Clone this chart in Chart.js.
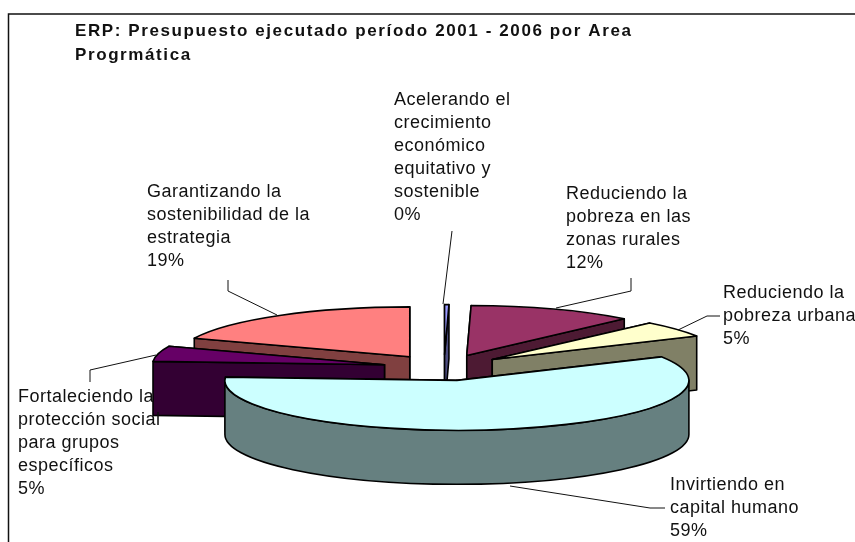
<!DOCTYPE html>
<html>
<head>
<meta charset="utf-8">
<style>
    body { margin: 0; background: #fff; }
    canvas { display: block; }
</style>
<script src="https://cdn.jsdelivr.net/npm/chart.js@4"></script>
</head>
<body>
<canvas id="pie" width="855" height="542"></canvas>
<script>
const titleLines = ['ERP: Presupuesto ejecutado período 2001 - 2006 por Area', 'Progrmática'];
const categories = [
    ['Acelerando el', 'crecimiento', 'económico', 'equitativo y', 'sostenible'],
    ['Reduciendo la', 'pobreza en las', 'zonas rurales'],
    ['Reduciendo la', 'pobreza urbana'],
    ['Invirtiendo en', 'capital humano'],
    ['Fortaleciendo la', 'protección social', 'para grupos', 'específicos'],
    ['Garantizando la', 'sostenibilidad de la', 'estrategia']
];
const values = [0.3, 11.6, 5.3, 59, 5, 19];
const topColors = ['#9999ff', '#993366', '#ffffcc', '#ccffff', '#660066', '#ff8080'];
const wallColors = ['#4d4d80', '#4d1a33', '#808066', '#668080', '#330033', '#804040'];

// back to front
const paintOrder = [0, 1, 5, 2, 4, 3];

// where the 3d pie sits on the page
const centerX = 444;
const centerY = 367.6;
const flatten = 0.215;
const depth = 54;
const explode = 61;

// label block: left edge, first line middle; then the leader line
const labelBoxes = [
    { x: 394, y: 100, lead: [[452, 231], [443, 304]] },
    { x: 566, y: 194, lead: [[631, 278], [631, 291], [556, 308]] },
    { x: 723, y: 293, lead: [[720, 316], [707, 316], [678, 330]] },
    { x: 670, y: 485, lead: [[665, 508], [650, 508], [510, 486]] },
    { x: 18, y: 397, lead: [[90, 382], [90, 370], [156, 355]] },
    { x: 147, y: 192, lead: [[228, 280], [228, 291], [277, 315]] }
];

function sliceGeometry(el) {
    const p = el.getProps(['startAngle', 'endAngle', 'outerRadius']);
    const mid = (p.startAngle + p.endAngle) / 2;
    return {
        a0: p.startAngle,
        a1: p.endAngle,
        r: p.outerRadius,
        dx: Math.cos(mid) * explode,
        dy: Math.sin(mid) * explode,
        x: centerX + Math.cos(mid) * explode,
        y: centerY + Math.sin(mid) * explode * flatten
    };
}

function tip(g, angle) {
    return [g.x + Math.cos(angle) * g.r, g.y + Math.sin(angle) * g.r * flatten];
}

function drawCutFace(ctx, g, angle) {
    const t = tip(g, angle);
    ctx.beginPath();
    ctx.moveTo(g.x, g.y);
    ctx.lineTo(t[0], t[1]);
    ctx.lineTo(t[0], t[1] + depth);
    ctx.lineTo(g.x, g.y + depth);
    ctx.closePath();
    ctx.fill();
    ctx.stroke();
}

function drawRim(ctx, g) {
    // only the part of the rim that faces the viewer
    const from = Math.max(g.a0, 0);
    const to = Math.min(g.a1, Math.PI);
    if (to <= from) return;
    ctx.beginPath();
    ctx.ellipse(g.x, g.y, g.r, g.r * flatten, 0, from, to);
    ctx.ellipse(g.x, g.y + depth, g.r, g.r * flatten, 0, to, from, true);
    ctx.closePath();
    ctx.fill();
    ctx.stroke();
}

const pie3d = {
    id: 'pie3d',
    beforeDraw(chart) {
        const ctx = chart.ctx;
        ctx.save();
        ctx.strokeStyle = '#111';
        ctx.lineWidth = 1.5;
        ctx.beginPath();
        ctx.moveTo(855, 14);
        ctx.lineTo(8.5, 14);
        ctx.lineTo(8.5, 542);
        ctx.stroke();
        ctx.restore();
        // the title comes out wide in the original
        ctx.letterSpacing = '1.6px';
    },
    beforeDatasetDraw(chart, args) {
        const ctx = chart.ctx;
        const arcs = args.meta.data;
        ctx.letterSpacing = '0px';
        paintOrder.forEach(function (i) {
            const el = arcs[i];
            const g = sliceGeometry(el);
            ctx.save();
            ctx.lineWidth = 1.6;
            ctx.lineJoin = 'round';
            ctx.strokeStyle = '#000';
            ctx.fillStyle = wallColors[i];

            const faces = [g.a0, g.a1].sort(function (a, b) { return Math.sin(a) - Math.sin(b); });
            drawCutFace(ctx, g, faces[0]);
            drawCutFace(ctx, g, faces[1]);
            drawRim(ctx, g);

            // the top face is the library's own arc, squashed
            ctx.save();
            ctx.translate(centerX, centerY);
            ctx.scale(1, flatten);
            ctx.translate(g.dx - el.x, g.dy - el.y);
            el.draw(ctx);
            ctx.restore();

            ctx.beginPath();
            ctx.moveTo(g.x, g.y);
            ctx.ellipse(g.x, g.y, g.r, g.r * flatten, 0, g.a0, g.a1);
            ctx.closePath();
            ctx.stroke();
            ctx.restore();
        });
        return false;
    },
    afterDatasetsDraw(chart) {
        const ctx = chart.ctx;
        const total = values.reduce(function (a, b) { return a + b; }, 0);
        ctx.save();
        ctx.font = '18px "Liberation Sans"';
        ctx.letterSpacing = '0.5px';
        ctx.textBaseline = 'middle';
        ctx.fillStyle = '#111';
        ctx.strokeStyle = '#111';
        ctx.lineWidth = 1;
        categories.forEach(function (lines, i) {
            const box = labelBoxes[i];
            ctx.beginPath();
            box.lead.forEach(function (pt, n) {
                if (n === 0) ctx.moveTo(pt[0], pt[1]);
                else ctx.lineTo(pt[0], pt[1]);
            });
            ctx.stroke();
            lines.concat(Math.round(values[i] / total * 100) + '%').forEach(function (text, n) {
                ctx.fillText(text, box.x, box.y + n * 23);
            });
        });
        ctx.restore();
    }
};

const chart = new Chart(document.getElementById('pie').getContext('2d'), {
    type: 'pie',
    data: {
        labels: categories.map(function (c) { return c.join(' '); }),
        datasets: [{
            data: values,
            backgroundColor: topColors,
            borderWidth: 0
        }]
    },
    options: {
        responsive: false,
        animation: false,
        radius: 232,
        layout: { padding: { left: 75 } },
        plugins: {
            legend: { display: false },
            tooltip: { enabled: false },
            title: {
                display: true,
                text: titleLines,
                align: 'start',
                color: '#111',
                font: { family: '"Liberation Sans"', size: 17, weight: 'bold', lineHeight: 1.41 },
                padding: { top: 19, bottom: 0 }
            }
        }
    },
    plugins: [pie3d]
});
</script>
</body>
</html>
